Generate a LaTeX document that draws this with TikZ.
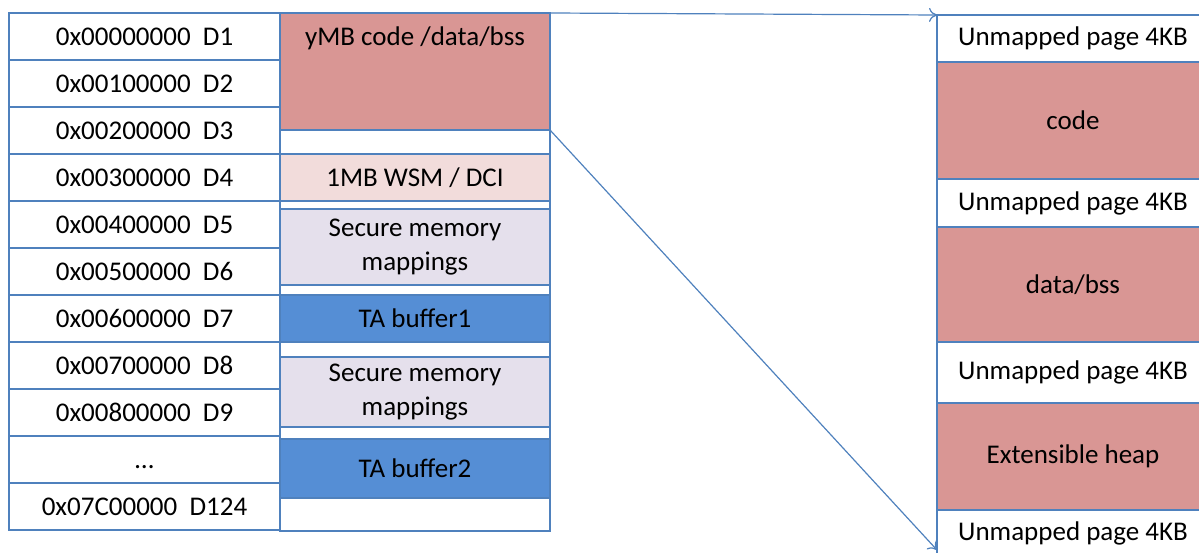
\documentclass[tikz,border=0pt]{standalone}
\usepackage{fontspec}
\setmainfont{Carlito}
\usetikzlibrary{arrows.meta}

\definecolor{lineblue}{RGB}{79,129,189}
\definecolor{segpink}{RGB}{217,150,148}
\definecolor{wsmpink}{RGB}{242,220,219}
\definecolor{seclav}{RGB}{229,224,236}
\definecolor{bufblue}{RGB}{85,142,213}

\begin{document}
\begin{tikzpicture}[x=1pt, y=-1pt,
        font=\fontsize{27}{34}\selectfont,
        cell/.style={draw=lineblue, line width=1.2pt, anchor=north west, inner sep=0pt, outer sep=0pt, align=center},
        addr/.style={cell, fill=white, minimum width=271pt, minimum height=47pt},
        seg/.style={cell, minimum width=270pt},
        page/.style={cell, minimum width=272pt}]
        \clip (0,0) rectangle (1199,553);
        
        %the address column
        \foreach [count=\i] \lab in {0x00000000\ \ D1, 0x00100000\ \ D2, 0x00200000\ \ D3, 0x00300000\ \ D4, 0x00400000\ \ D5, 0x00500000\ \ D6, 0x00600000\ \ D7, 0x00700000\ \ D8, 0x00800000\ \ D9, \vphantom{0x}\dots, 0x07C00000\ \ D124}
            \node [addr] (addr\i) at (9,{13+47*(\i-1)}) {\lab};
        
        %the segments column
        \node [seg, minimum height=518pt, fill=white] (segcol) at (280,13) {};
        \node [seg, minimum height=117pt, fill=segpink] (ymb) at (280,13) {};
        \node (ymblab) at (415,38) {yMB code /data/bss};
        \node [seg, minimum height=47pt, fill=wsmpink] (wsm) at (280,154) {1MB WSM / DCI};
        \node [seg, minimum height=76pt, fill=seclav] (sec1) at (280,209) {Secure memory\\mappings};
        \node [seg, minimum height=47pt, fill=bufblue] (buf1) at (280,295) {TA buffer1};
        \node [seg, minimum height=70pt, fill=seclav] (sec2) at (280,357) {Secure memory\\mappings};
        \node [seg, minimum height=59pt, fill=bufblue] (buf2) at (280,439) {TA buffer2};
        
        %the expanded layout
        \node [page, minimum height=47pt, fill=white] (unmap1) at (937,15) {Unmapped page 4KB};
        \node [page, minimum height=117pt, fill=segpink] (code) at (937,62) {code};
        \node [page, minimum height=48pt, fill=white] (unmap2) at (937,179) {Unmapped page 4KB};
        \node [page, minimum height=115pt, fill=segpink] (data) at (937,227) {data/bss};
        \node [page, minimum height=61pt, fill=white] (unmap3) at (937,342) {Unmapped page 4KB};
        \node [page, minimum height=107pt, fill=segpink] (heap) at (937,403) {Extensible heap};
        \node [page, minimum height=47pt, fill=white] (unmap4) at (937,510) {Unmapped page 4KB};
        
        \draw [lineblue, line width=1.2pt, -{To[length=8pt, width=14pt]}] (ymb.north east) -- (unmap1.north west);
        \draw [lineblue, line width=1.2pt, -{To[length=8pt, width=14pt]}] (ymb.south east) -- ([yshift=7pt]unmap4.south west);
        
    \end{tikzpicture}
\end{document}
